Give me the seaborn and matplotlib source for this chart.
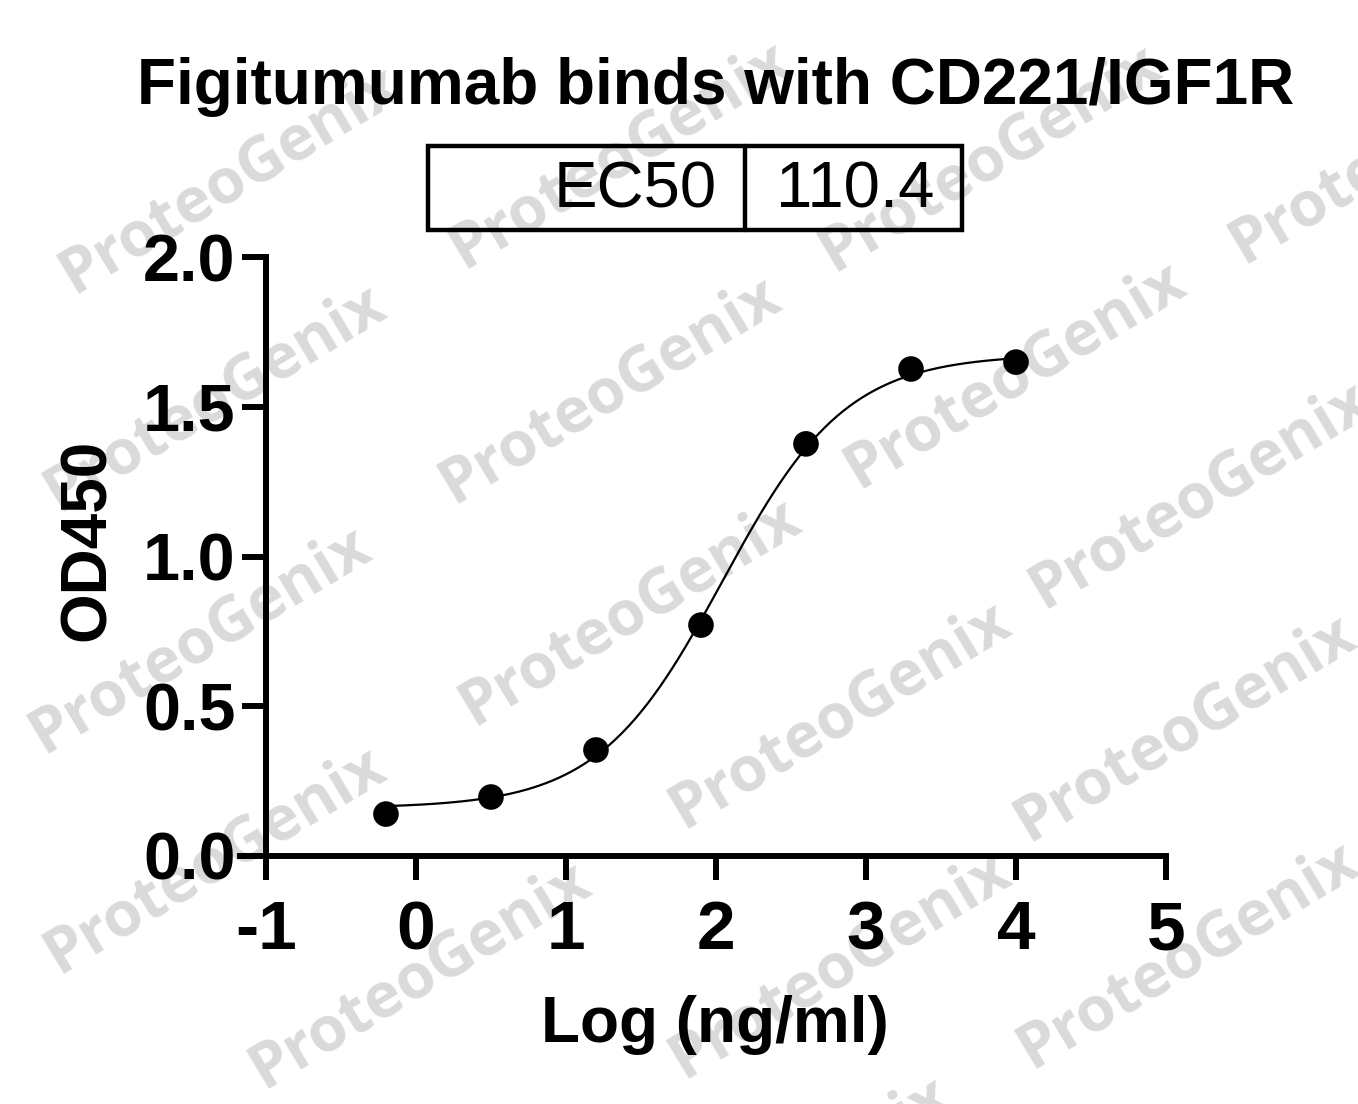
# ELISA binding curve, Figitumumab vs CD221/IGF1R

import numpy as np
import seaborn as sns
import matplotlib.pyplot as plt
from matplotlib.patches import Rectangle
from matplotlib.lines import Line2D

# points
log_conc = [-0.2, 0.5, 1.2, 1.9, 2.6, 3.3, 4.0]
od450 = [0.140, 0.197, 0.354, 0.771, 1.376, 1.626, 1.649]

# 4PL fit values (EC50 from the table on the chart)
ec50 = 110.4
bottom = 0.16
top = 1.675
hill = 1.05

x_ticks = [-1, 0, 1, 2, 3, 4, 5]
y_ticks = [0.0, 0.5, 1.0, 1.5, 2.0]
y_tick_labels = ["0.0", "0.5", "1.0", "1.5", "2.0"]

title = "Figitumumab binds with CD221/IGF1R"
table_cells = ["EC50", "110.4"]

# watermark positions in pixels (x, y from top)
wm_text = "ProteoGenix"
wm_centers = [(230, 180), (620, 155), (990, 158), (1400, 150),
              (215, 398), (610, 390), (1015, 375), (1200, 495),
              (200, 640), (630, 612), (840, 715), (1185, 728),
              (215, 860), (420, 975), (840, 965), (1188, 955),
              (780, 1190)]

sns.set_style("ticks")
plt.rcParams['font.family'] = ['Liberation Sans', 'DejaVu Sans']
plt.rcParams['text.color'] = 'black'
plt.rcParams['axes.labelcolor'] = 'black'
plt.rcParams['axes.edgecolor'] = 'black'
plt.rcParams['xtick.color'] = 'black'
plt.rcParams['ytick.color'] = 'black'

W, H = 1358, 1104
fig = plt.figure(figsize=(W / 100, H / 100), dpi=100)
ax = fig.add_axes([240 / W, 1 - 856 / H, 926 / W, 599 / H])
ax.set_zorder(1)
ax.patch.set_visible(False)

# fitted curve from the 4PL values
x_fit = np.linspace(min(log_conc), max(log_conc), 300)
y_fit = bottom + (top - bottom) / (1 + 10 ** ((np.log10(ec50) - x_fit) * hill))
sns.lineplot(x=x_fit, y=y_fit, ax=ax, color='black', linewidth=1.6)
sns.scatterplot(x=log_conc, y=od450, ax=ax, color='black', s=340,
                edgecolor='none', zorder=3)

ax.set_xlim(-1.173, 5)
ax.set_ylim(0, 2)
ax.spines['top'].set_visible(False)
ax.spines['right'].set_visible(False)
ax.spines['left'].set_position(('data', -1))
for s in ['left', 'bottom']:
    ax.spines[s].set_linewidth(4.3)
    ax.spines[s].set_capstyle('projecting')

ax.set_xticks(x_ticks)
ax.set_xticklabels([str(t) for t in x_ticks], fontsize=50, fontweight='bold')
ax.set_yticks(y_ticks)
ax.set_yticklabels(y_tick_labels, fontsize=48, fontweight='bold')
ax.tick_params(axis='both', length=17, width=4.3, color='black')
ax.tick_params(axis='x', pad=14)
ax.tick_params(axis='y', pad=5)

ax.set_xlabel("Log (ng/ml)", fontsize=46, fontweight='bold')
ax.set_ylabel("OD450", fontsize=46, fontweight='bold')
ax.xaxis.set_label_coords((715 - 240) / 926, -0.232)
ax.yaxis.set_label_coords((118 - 240) / 926, 0.527)

# title
fig.text(716 / W, 1 - 104 / H, title, ha='center', va='baseline',
         fontsize=46, fontweight='bold')

# EC50 table box
fig.add_artist(Rectangle((428 / W, 1 - 230 / H), (962 - 428) / W, 84 / H,
                         transform=fig.transFigure, fill=False,
                         edgecolor='black', linewidth=3.2))
fig.add_artist(Line2D([745 / W, 745 / W], [1 - 146 / H, 1 - 230 / H],
                      transform=fig.transFigure, color='black', linewidth=3.2))
fig.text(717 / W, 1 - 208 / H, table_cells[0], ha='right', va='baseline', fontsize=47)
fig.text(855 / W, 1 - 208 / H, table_cells[1], ha='center', va='baseline', fontsize=47)

# watermark behind everything
for cx, cy in wm_centers:
    fig.text(cx / W, 1 - cy / H, wm_text, rotation=31, rotation_mode='anchor',
             ha='center', va='center', fontsize=45, fontweight='bold',
             color='#dadada', family=['Open Sans', 'DejaVu Sans'], zorder=0)

fig.savefig('out.png', dpi=100)
